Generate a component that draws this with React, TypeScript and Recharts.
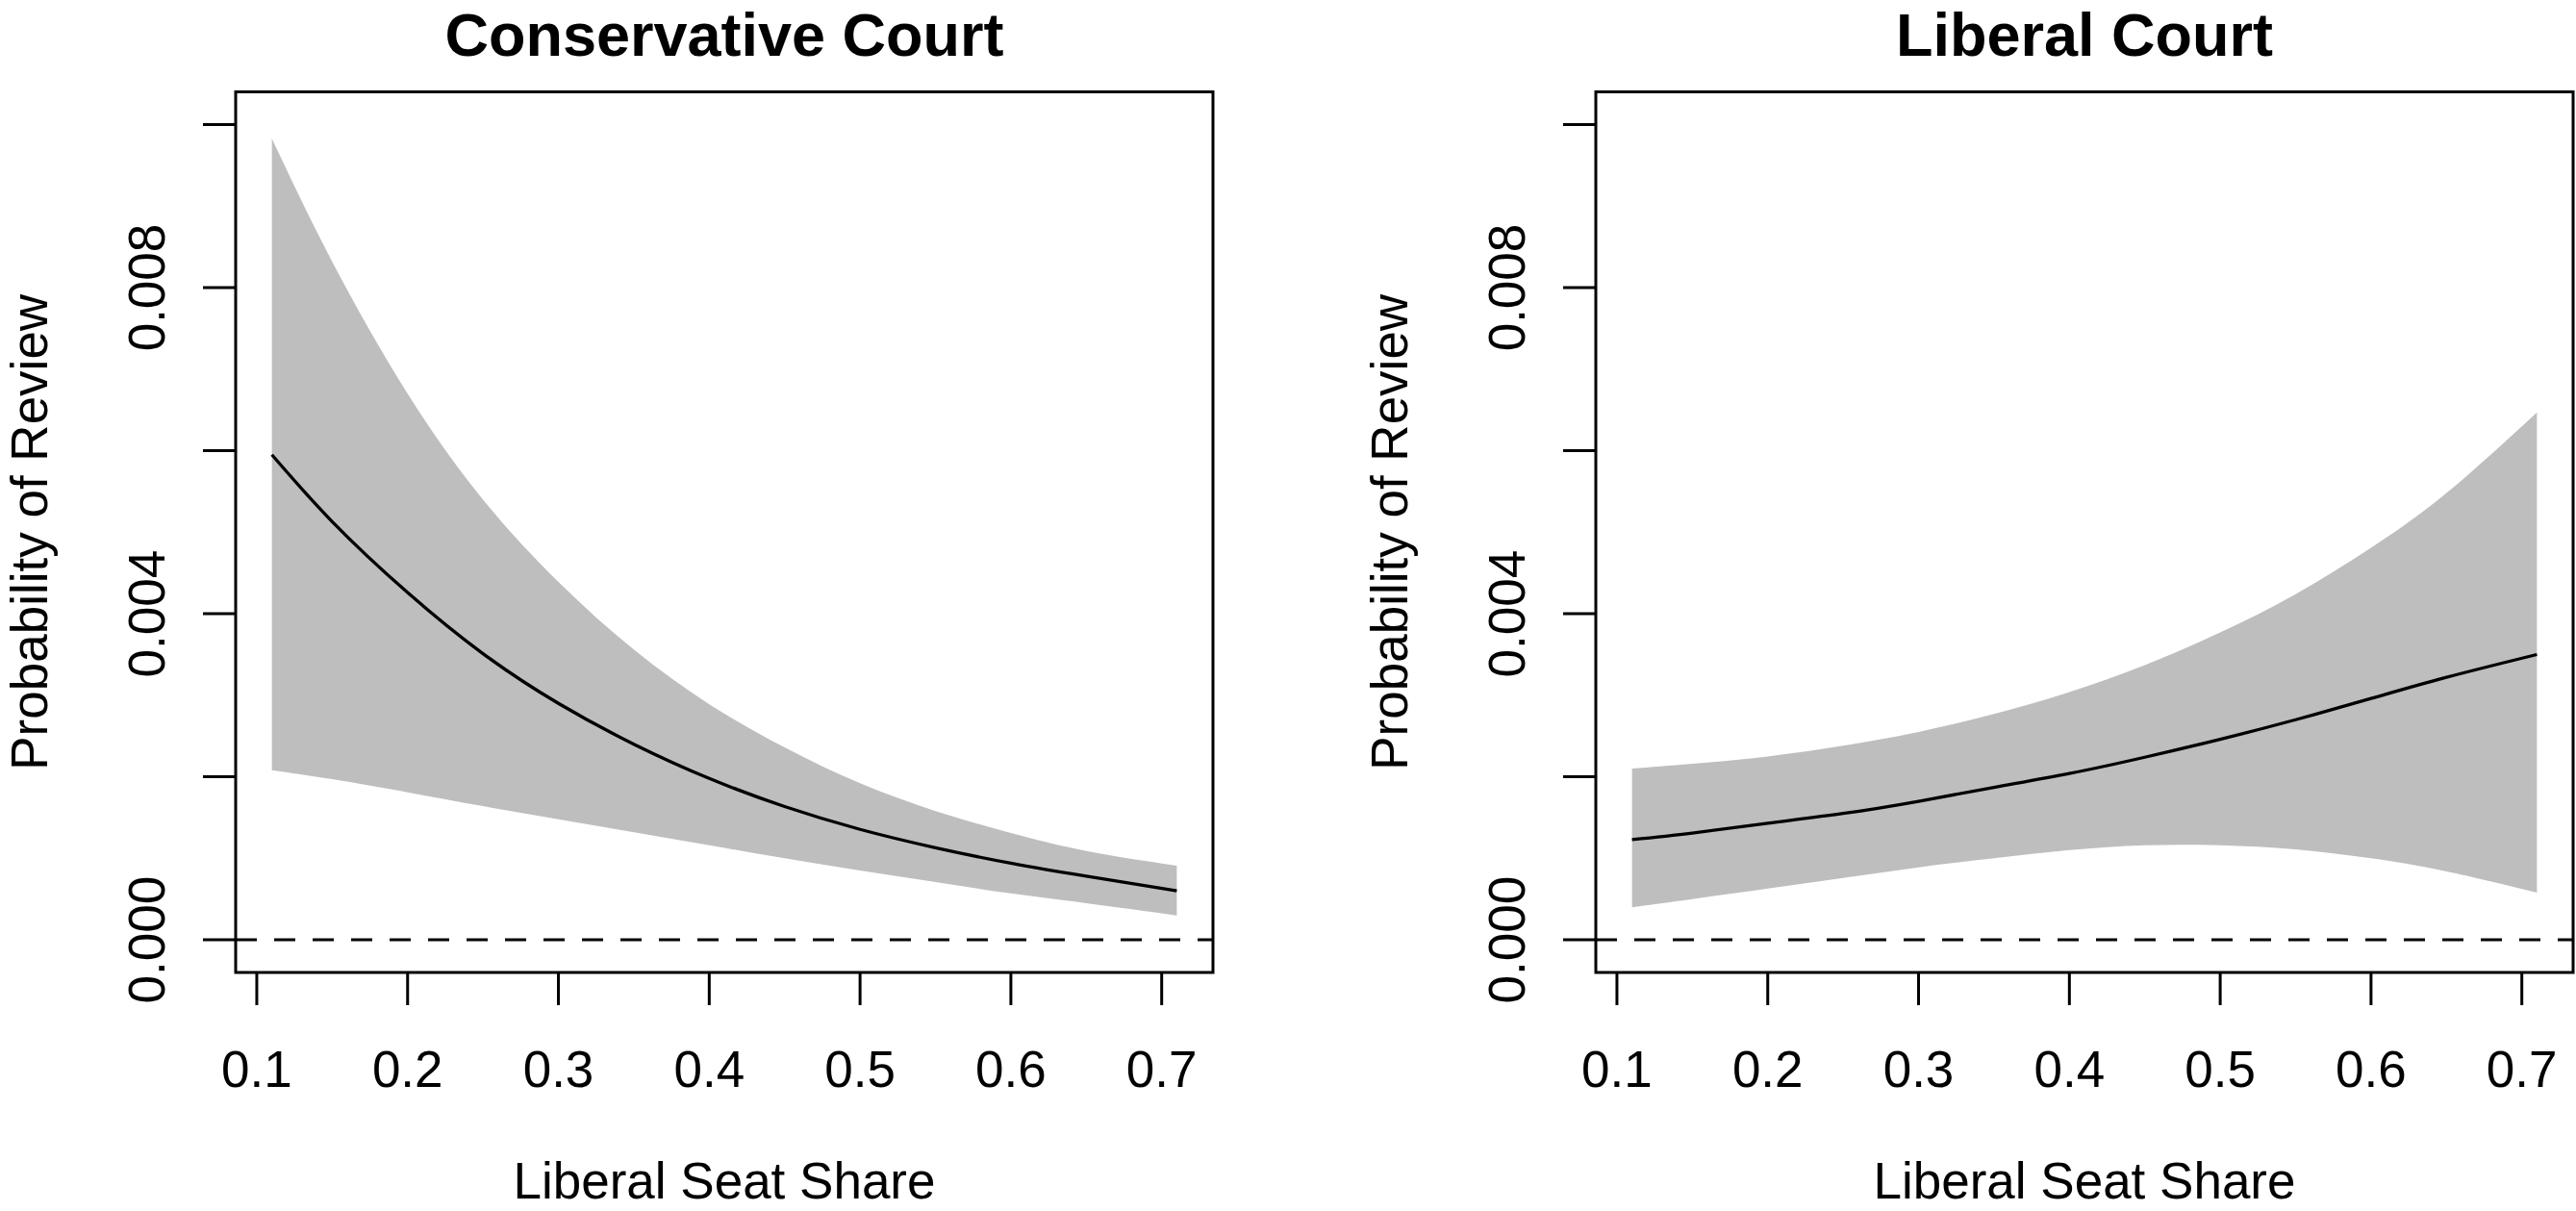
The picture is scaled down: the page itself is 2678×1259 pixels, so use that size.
import React from "react";
import {
  ComposedChart,
  Area,
  Line,
  XAxis,
  YAxis,
  ReferenceLine,
  ReferenceArea,
  Label,
} from "recharts";

// liberal seat share (x) at which the curves were read
const SEAT_SHARE = [0.11, 0.15, 0.2, 0.25, 0.3, 0.35, 0.4, 0.45, 0.5, 0.55, 0.6, 0.65, 0.71];

// Conservative Court
const CONS_MEAN = [0.00595, 0.00513, 0.00426, 0.00351, 0.0029, 0.0024, 0.00198, 0.001635, 0.001355, 0.00113, 0.00094, 0.00078, 0.0006];
const CONS_LOWER = [0.00208, 0.00197, 0.00181, 0.00164, 0.00148, 0.00132, 0.00116, 0.001, 0.00085, 0.00071, 0.00057, 0.00045, 0.0003];
const CONS_UPPER = [0.00983, 0.00832, 0.0067, 0.0054, 0.00439, 0.00356, 0.00289, 0.00236, 0.00192, 0.00158, 0.00131, 0.00109, 0.00091];

// Liberal Court
const LIB_MEAN = [0.00123, 0.00131, 0.00143, 0.00155, 0.0017, 0.00187, 0.00204, 0.00224, 0.00246, 0.0027, 0.00296, 0.00322, 0.0035];
const LIB_LOWER = [0.0004, 0.0005, 0.00063, 0.00076, 0.00089, 0.001, 0.0011, 0.00116, 0.00116, 0.00111, 0.001, 0.00084, 0.00058];
const LIB_UPPER = [0.0021, 0.00216, 0.00225, 0.00238, 0.00255, 0.00277, 0.00304, 0.00337, 0.00377, 0.00424, 0.00481, 0.00548, 0.00647];

const X_TICKS = [0.1, 0.2, 0.3, 0.4, 0.5, 0.6, 0.7];
const Y_TICKS = [0, 0.002, 0.004, 0.006, 0.008, 0.01];
const Y_TICK_LABELS = ["0.000", "", "0.004", "", "0.008", ""];

const FONT = '"Liberation Sans", Arial, Helvetica, sans-serif';
const H = 1259;
const PLOT_RIGHT = 1261;
const FS = 53;

function buildRows(mean: number[], lower: number[], upper: number[]) {
  return SEAT_SHARE.map((x, i) => ({
    x,
    mean: mean[i],
    band: [lower[i], upper[i]],
  }));
}

function YTick(props: any) {
  const { x, y, index } = props;
  const label = Y_TICK_LABELS[index];
  if (!label) return null;
  return (
    <text
      x={x}
      y={y}
      transform={`rotate(-90, ${x}, ${y})`}
      textAnchor="middle"
      fontSize={FS}
      fontFamily={FONT}
      fill="#000"
    >
      {label}
    </text>
  );
}

function YTitle(props: any) {
  const vb = props.viewBox;
  const cx = vb.x + 49;
  const cy = vb.y + vb.height / 2;
  return (
    <text
      x={cx}
      y={cy}
      transform={`rotate(-90, ${cx}, ${cy})`}
      textAnchor="middle"
      fontSize={FS}
      fontFamily={FONT}
      fill="#000"
    >
      Probability of Review
    </text>
  );
}

function Panel({ title, rows, left, width }: { title: string; rows: any[]; left: number; width: number }) {
  return (
    <div style={{ position: "absolute", left, top: 0, width, height: H }}>
      <ComposedChart
        width={width}
        height={H}
        data={rows}
        margin={{ top: 95.6, right: width - PLOT_RIGHT, bottom: 0, left: 0 }}
      >
        <XAxis
          dataKey="x"
          type="number"
          domain={[0.086, 0.734]}
          ticks={X_TICKS}
          interval={0}
          allowDataOverflow
          height={248}
          tickSize={34}
          tickMargin={47}
          axisLine={false}
          stroke="#000"
          tickLine={{ stroke: "#000", strokeWidth: 3 }}
          tick={{ fill: "#000", fontSize: FS, fontFamily: FONT }}
          tickFormatter={(v: number) => v.toFixed(1)}
        >
          <Label
            value="Liberal Seat Share"
            position="insideBottom"
            offset={13}
            fill="#000"
            fontSize={FS}
            fontFamily={FONT}
          />
        </XAxis>
        <YAxis
          type="number"
          domain={[-0.0004, 0.0104]}
          ticks={Y_TICKS}
          interval={0}
          allowDataOverflow
          width={245}
          tickSize={34}
          tickMargin={40}
          axisLine={false}
          stroke="#000"
          tickLine={{ stroke: "#000", strokeWidth: 3 }}
          tick={<YTick />}
        >
          <Label content={<YTitle />} />
        </YAxis>
        <Area
          dataKey="band"
          type="natural"
          fill="#BEBEBE"
          fillOpacity={1}
          stroke="none"
          activeDot={false}
          isAnimationActive={false}
        />
        <Line
          dataKey="mean"
          type="natural"
          stroke="#000"
          strokeWidth={3.3}
          dot={false}
          activeDot={false}
          isAnimationActive={false}
        />
        <ReferenceLine y={0} stroke="#000" strokeWidth={3} strokeDasharray="22 18" />
        <ReferenceArea
          x1={0.086}
          x2={0.734}
          y1={-0.0004}
          y2={0.0104}
          fill="none"
          stroke="#000"
          strokeWidth={3}
          ifOverflow="visible"
        />
      </ComposedChart>
      <svg width={width} height={110} style={{ position: "absolute", left: 0, top: 0, pointerEvents: "none" }}>
        <text x={(245 + PLOT_RIGHT) / 2} y={58} textAnchor="middle" fontSize={63} fontWeight="bold" fontFamily={FONT} fill="#000">
          {title}
        </text>
      </svg>
    </div>
  );
}

export default function App() {
  const cons = buildRows(CONS_MEAN, CONS_LOWER, CONS_UPPER);
  const lib = buildRows(LIB_MEAN, LIB_LOWER, LIB_UPPER);
  return (
    <div style={{ position: "absolute", left: 0, top: 0, width: 2678, height: H, background: "#fff", overflow: "hidden" }}>
      <Panel title="Conservative Court" rows={cons} left={0} width={1339} />
      <Panel title="Liberal Court" rows={lib} left={1414} width={1264} />
    </div>
  );
}
